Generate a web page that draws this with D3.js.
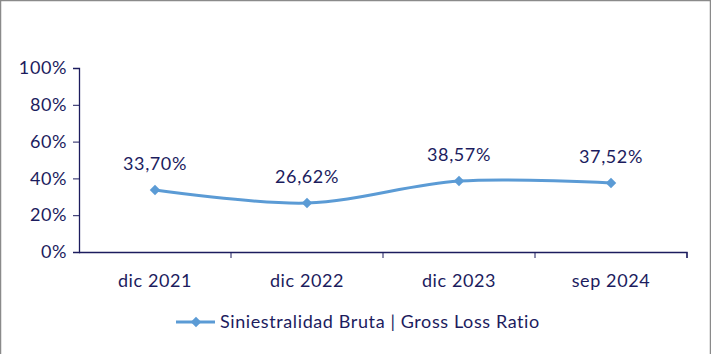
<!DOCTYPE html>
<html>
<head>
<meta charset="utf-8">
<script src="https://cdn.jsdelivr.net/npm/d3@7"></script>
<style>
body { margin: 0; background: #fff; }
text { font-family: Lato, "Noto Sans", sans-serif; fill: #1c1c5e; letter-spacing: 0.6px; }
</style>
</head>
<body>
<svg id="chart"></svg>
<script>
var w = 711, h = 354;
var margin = {top: 68, right: 24, bottom: 102, left: 79};

var periods = ["dic 2021", "dic 2022", "dic 2023", "sep 2024"];
var lossRatio = [33.70, 26.62, 38.57, 37.52];
var yTicks = [0, 20, 40, 60, 80, 100];
var seriesName = "Siniestralidad Bruta | Gross Loss Ratio";

var axisColor = "#1c1c5e", lineColor = "#5b9bd5";

var svg = d3.select("#chart")
	.attr("width", w)
	.attr("height", h);

// marco gris
svg.append("path")
	.attr("d", "M0.5," + h + " V0.5 H" + (w - 0.5) + " V" + h)
	.style("fill", "none")
	.style("stroke", "#8a8a8a")
	.style("stroke-width", 1.5);

var x = d3.scaleBand()
	.domain(periods)
	.range([margin.left, w - margin.right]);

var y = d3.scaleLinear()
	.domain([0, 100])
	.range([h - margin.bottom, margin.top]);

var fmt = function(v) { return v.toFixed(2).replace(".", ",") + "%"; };

// eje Y
var yAxis = svg.append("g")
	.attr("transform", "translate(" + margin.left + ",0)")
	.call(d3.axisLeft(y).tickValues(yTicks).tickSize(6).tickPadding(6)
		.tickFormat(function(d) { return d + "%"; }));

// eje X
var xAxis = svg.append("g")
	.attr("transform", "translate(0," + (h - margin.bottom) + ")")
	.call(d3.axisBottom(x).tickSize(0).tickPadding(22));

xAxis.selectAll(".tick")
	.append("line")
	.attr("x1", x.bandwidth() / 2)
	.attr("x2", x.bandwidth() / 2)
	.attr("y2", 6)
	.style("stroke", axisColor);

svg.selectAll(".domain").style("stroke", axisColor).style("stroke-width", 1.3);
yAxis.selectAll(".tick line").style("stroke", axisColor);
svg.selectAll(".tick text")
	.style("font-size", "18px")
	.style("font-family", "Lato, sans-serif")
	.style("fill", axisColor);

xAxis.select(".domain").attr("d", "M" + margin.left + ",0.5H" + (w - margin.right) + "V6");

var data = periods.map(function(p, i) { return {p: p, v: lossRatio[i]}; });
var cx = function(d) { return x(d.p) + x.bandwidth() / 2; };

var line = d3.line()
	.x(cx)
	.y(function(d) { return y(d.v); })
	.curve(d3.curveCatmullRom.alpha(0));

svg.append("path")
	.datum(data)
	.attr("d", line)
	.style("fill", "none")
	.style("stroke", lineColor)
	.style("stroke-width", 3);

var diamond = d3.symbol().type(d3.symbolDiamond2).size(70);

svg.selectAll(".pt")
	.data(data)
	.enter()
	.append("path")
	.attr("class", "pt")
	.attr("d", diamond)
	.attr("transform", function(d) { return "translate(" + cx(d) + "," + y(d.v) + ")"; })
	.style("fill", lineColor);

svg.selectAll(".lbl")
	.data(data)
	.enter()
	.append("text")
	.attr("class", "lbl")
	.attr("x", cx)
	.attr("y", function(d) { return y(d.v) - 26; })
	.attr("dy", "0.35em")
	.attr("text-anchor", "middle")
	.style("font-size", "18px")
	.text(function(d) { return fmt(d.v); });

// leyenda
var legend = svg.append("g")
	.attr("transform", "translate(176,322)");

legend.append("line")
	.attr("x1", 0).attr("x2", 39)
	.style("stroke", lineColor)
	.style("stroke-width", 3);

legend.append("path")
	.attr("d", diamond)
	.attr("transform", "translate(20,0)")
	.style("fill", lineColor);

legend.append("text")
	.attr("x", 44)
	.attr("dy", "0.35em")
	.style("font-size", "18px")
	.text(seriesName);
</script>
</body>
</html>
